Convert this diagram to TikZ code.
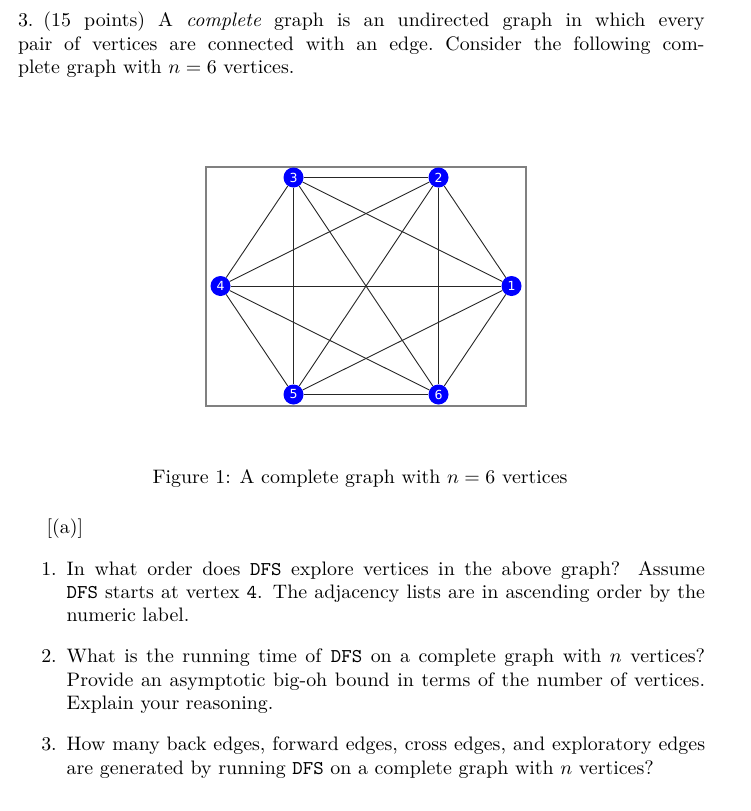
\documentclass[tikz,border=0pt]{standalone}
\usepackage{fontspec}
\newfontfamily\dvsans{DejaVu Sans}
\begin{document}
\begin{tikzpicture}[x=1pt,y=-1pt,
  txt/.style={xscale=1.99,yscale=1.95,inner sep=0pt,outer sep=0pt,align=justify,anchor=base west},
  plain/.style={xscale=1.99,yscale=1.95,inner sep=0pt,outer sep=0pt},
  vert/.style={circle,fill={rgb,255:red,0;green,0;blue,255},minimum size=20pt,inner sep=0pt,text=white,font=\dvsans\fontsize{12.5}{13}\selectfont},
  edge/.style={draw=black!85,line width=0.9pt}]
\useasboundingbox (0,0) rectangle (751,811);
\node[txt,text width=345pt] (para) at (18,26.7) {\frenchspacing 3.\hspace{5pt}(15 points) A \emph{complete} graph is an undirected graph in which every\linebreak pair of vertices are connected with an edge. Consider the following com-\linebreak plete graph with $n=6$ vertices.};
% figure
\draw[draw=black!50,line width=1.2pt] (206,167) rectangle (526,406);
\node[vert] (v1) at (511.5,286) {1};
\node[vert] (v2) at (438.5,177.5) {2};
\node[vert] (v3) at (293.5,177.5) {3};
\node[vert] (v4) at (220.5,286) {4};
\node[vert] (v5) at (293.5,394.5) {5};
\node[vert] (v6) at (438.5,394.5) {6};
\foreach \a/\b in {1/2,1/3,1/4,1/5,1/6,2/3,2/4,2/5,2/6,3/4,3/5,3/6,4/5,4/6,5/6}
  \draw[edge] (v\a) -- (v\b);
\node[plain,anchor=base] (cap) at (360,483.3) {Figure 1: A complete graph with $n=6$ vertices};
\node[plain,anchor=base west] (sub) at (46.7,533) {[(a)]};
\node[txt,text width=320.8pt] (q1) at (66.7,575) {\llap{1.\hspace{5pt}}In what order does \texttt{DFS} explore vertices in the above graph?  Assume\linebreak \texttt{DFS} starts at vertex \texttt{4}. The adjacency lists are in ascending order by the\linebreak numeric label.};
\node[txt,text width=320.8pt] (q2) at (66.7,662.7) {\llap{2.\hspace{5pt}}What is the running time of \texttt{DFS} on a complete graph with $n$ vertices?\linebreak Provide an asymptotic big-oh bound in terms of the number of vertices.\linebreak Explain your reasoning.};
\node[txt,text width=320.8pt] (q3) at (66.7,750.7) {\llap{3.\hspace{5pt}}How many back edges, forward edges, cross edges, and exploratory edges\linebreak are generated by running \texttt{DFS} on a complete graph with $n$ vertices?};
\end{tikzpicture}
\end{document}
